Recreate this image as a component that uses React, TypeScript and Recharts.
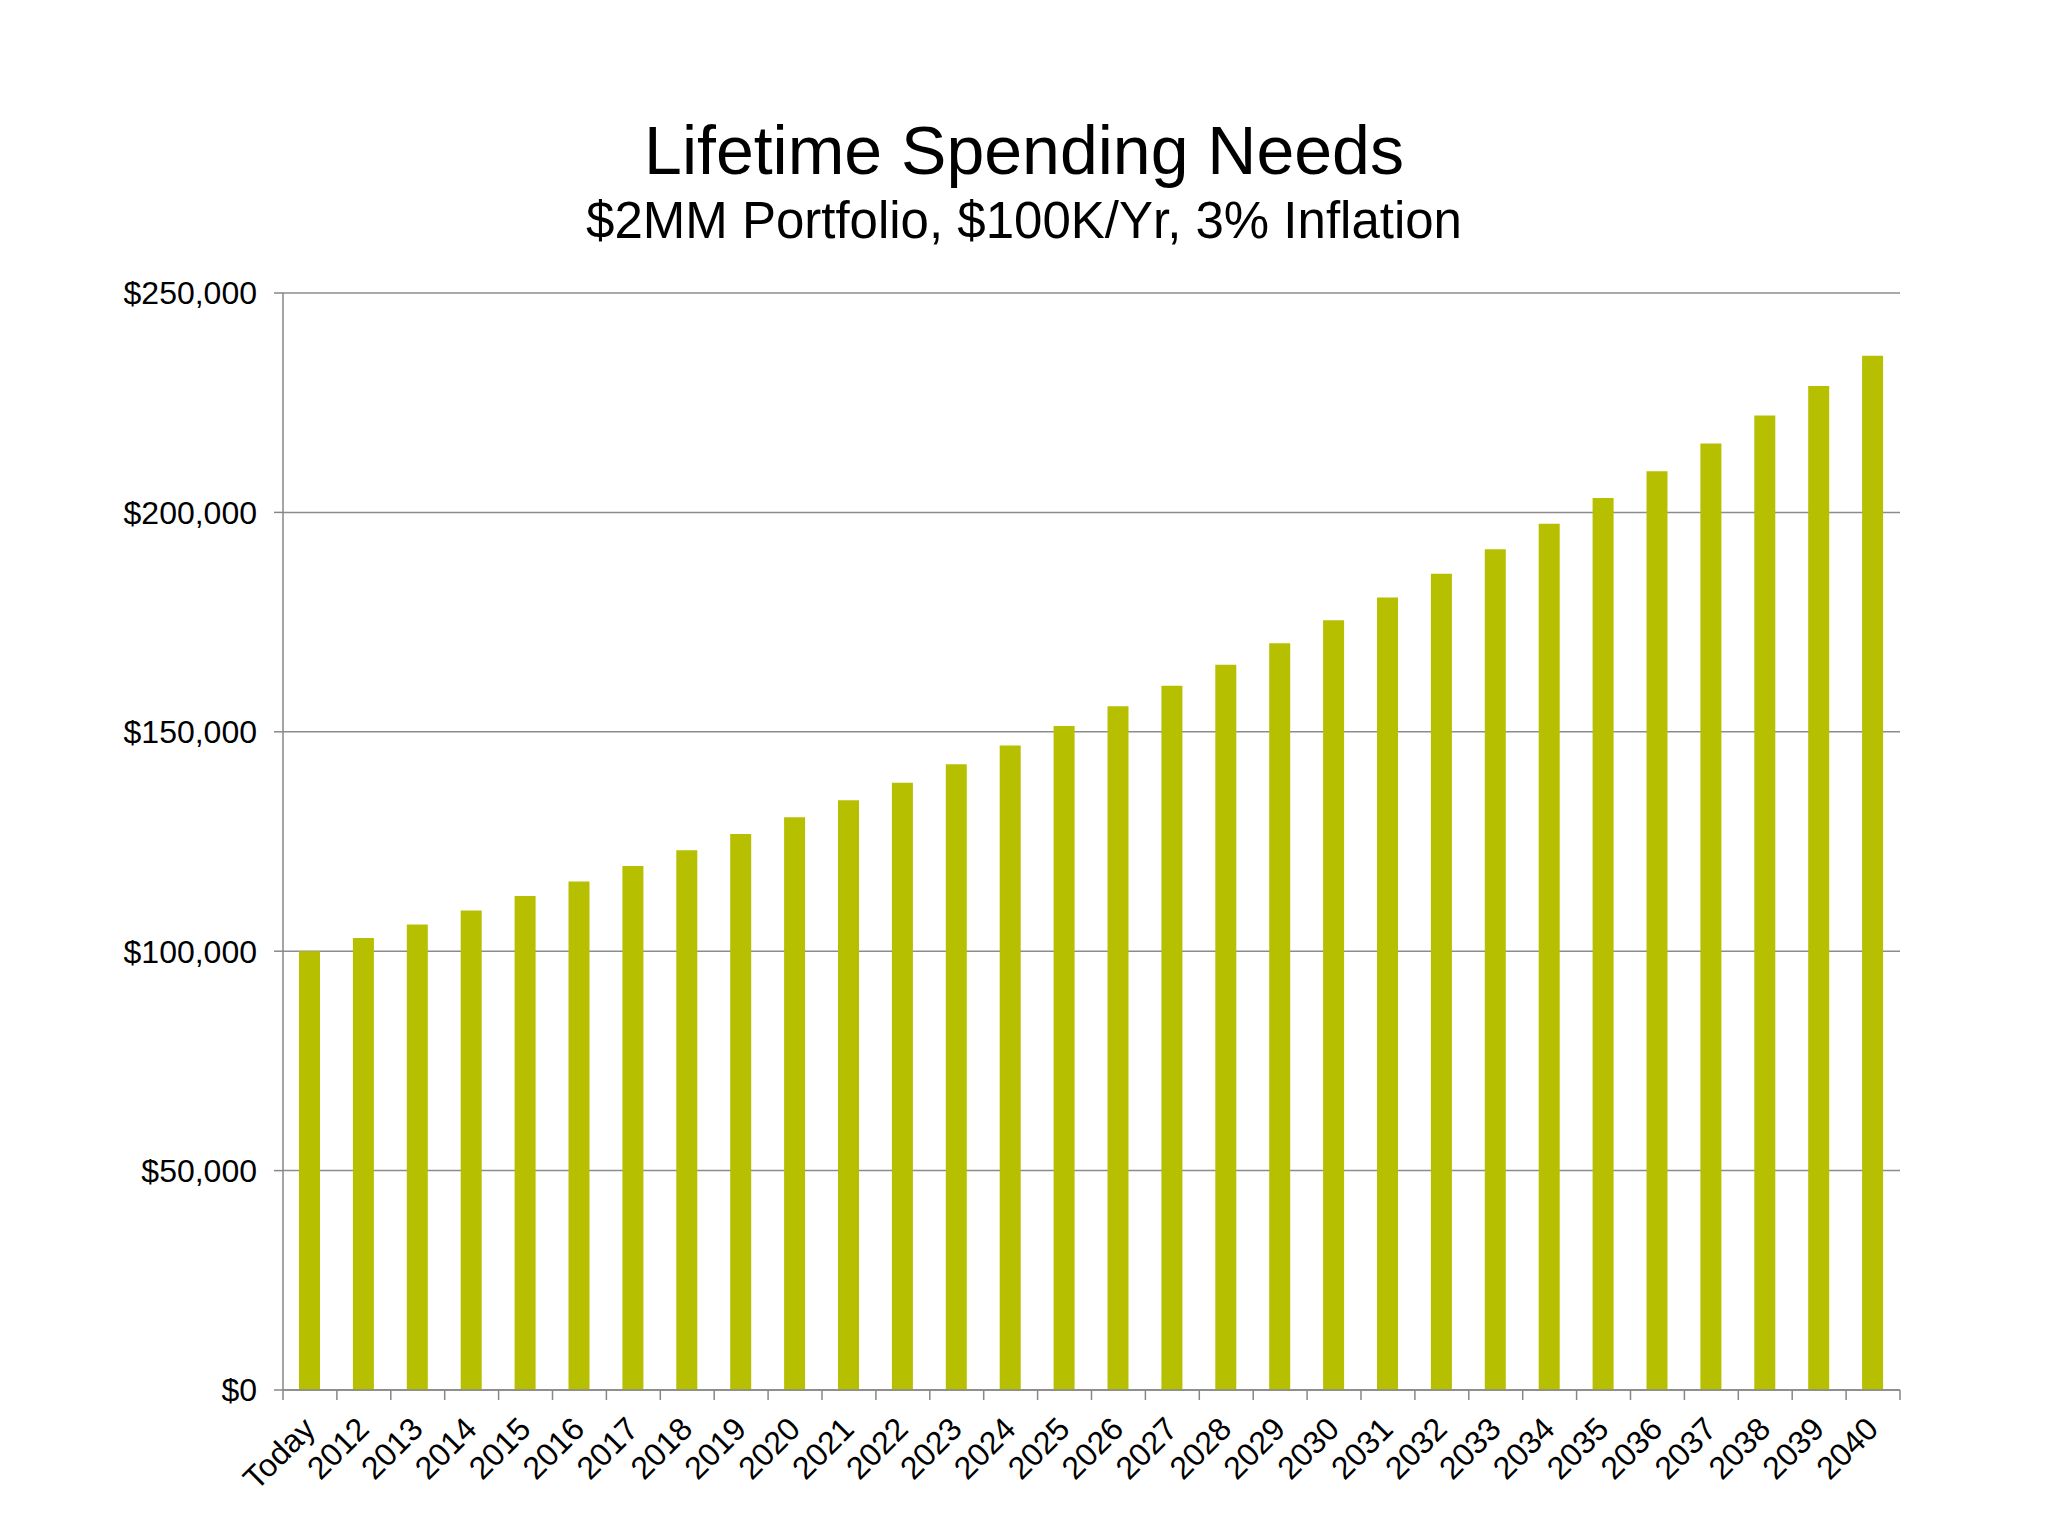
import React from 'react'
import { BarChart, Bar, XAxis, YAxis, CartesianGrid } from 'recharts'

const years = [
  'Today', '2012', '2013', '2014', '2015', '2016', '2017', '2018', '2019', '2020',
  '2021', '2022', '2023', '2024', '2025', '2026', '2027', '2028', '2029', '2030',
  '2031', '2032', '2033', '2034', '2035', '2036', '2037', '2038', '2039', '2040',
]
const spending = [
  100000, 103000, 106100, 109300, 112600, 115900, 119400, 123000, 126700, 130500,
  134400, 138400, 142600, 146900, 151300, 155800, 160500, 165300, 170200, 175400,
  180600, 186000, 191600, 197400, 203300, 209400, 215700, 222100, 228800, 235700,
]
const yTicks = [0, 50000, 100000, 150000, 200000, 250000]

const title = 'Lifetime Spending Needs'
const subtitle = '$2MM Portfolio, $100K/Yr, 3% Inflation'

const data = years.map((year, i) => ({ year, value: spending[i] }))

const FONT = '"Liberation Sans", Arial, sans-serif'
const AXIS_GREY = '#878787'
const BAR_COLOR = '#B6BF00'

const W = 2032
const H = 1520
const margin = { top: 285, right: 140, bottom: 38, left: 135 }
const Y_AXIS_W = 140
const X_AXIS_H = 100
const plotW = W - margin.left - margin.right - Y_AXIS_W
const band = plotW / years.length

const fmtMoney = (v: number) => '$' + v.toLocaleString('en-US')

// x 축 눈금: 카테고리 경계에 tick, 라벨은 -45도
function YearTick(props: any) {
  const { x, y, payload, index } = props
  const left = x - band / 2
  const lx = x + 7
  const ly = y + 41
  return (
    <g>
      <line x1={left} y1={y} x2={left} y2={y + 10} stroke={AXIS_GREY} strokeWidth={1.5} />
      {index === years.length - 1 && (
        <line x1={x + band / 2} y1={y} x2={x + band / 2} y2={y + 10} stroke={AXIS_GREY} strokeWidth={1.5} />
      )}
      <text
        x={lx}
        y={ly}
        textAnchor="end"
        transform={`rotate(-45, ${lx}, ${ly})`}
        fontSize={32}
        fontFamily={FONT}
        fill="#000"
      >
        {payload.value}
      </text>
    </g>
  )
}

export default function App() {
  return (
    <div style={{ position: 'relative', width: W, height: H, background: '#fff' }}>
      <BarChart width={W} height={H} data={data} margin={margin}>
        <CartesianGrid vertical={false} stroke="#8c8c8c" strokeWidth={1.5} />
        <XAxis
          dataKey="year"
          interval={0}
          height={X_AXIS_H}
          tickLine={false}
          tickSize={0}
          tickMargin={0}
          axisLine={{ stroke: AXIS_GREY, strokeWidth: 1.5 }}
          tick={<YearTick />}
        />
        <YAxis
          width={Y_AXIS_W}
          domain={[0, 250000]}
          ticks={yTicks}
          interval={0}
          tickFormatter={fmtMoney}
          tickSize={9}
          tickMargin={17}
          tickLine={{ stroke: AXIS_GREY, strokeWidth: 1.5 }}
          axisLine={{ stroke: AXIS_GREY, strokeWidth: 1.5 }}
          tick={{ fontSize: 32, fontFamily: FONT, fill: '#000' }}
        />
        <Bar dataKey="value" fill={BAR_COLOR} barSize={21} isAnimationActive={false} />
      </BarChart>
      <svg
        width={W}
        height={260}
        style={{ position: 'absolute', left: 0, top: 0, pointerEvents: 'none' }}
      >
        <text x={1016} y={166} textAnchor="middle" fontSize={68} fontFamily={FONT} fill="#000">
          {title}
        </text>
        <text x={1016} y={230} textAnchor="middle" fontSize={51} fontFamily={FONT} fill="#000">
          {subtitle}
        </text>
      </svg>
    </div>
  )
}
